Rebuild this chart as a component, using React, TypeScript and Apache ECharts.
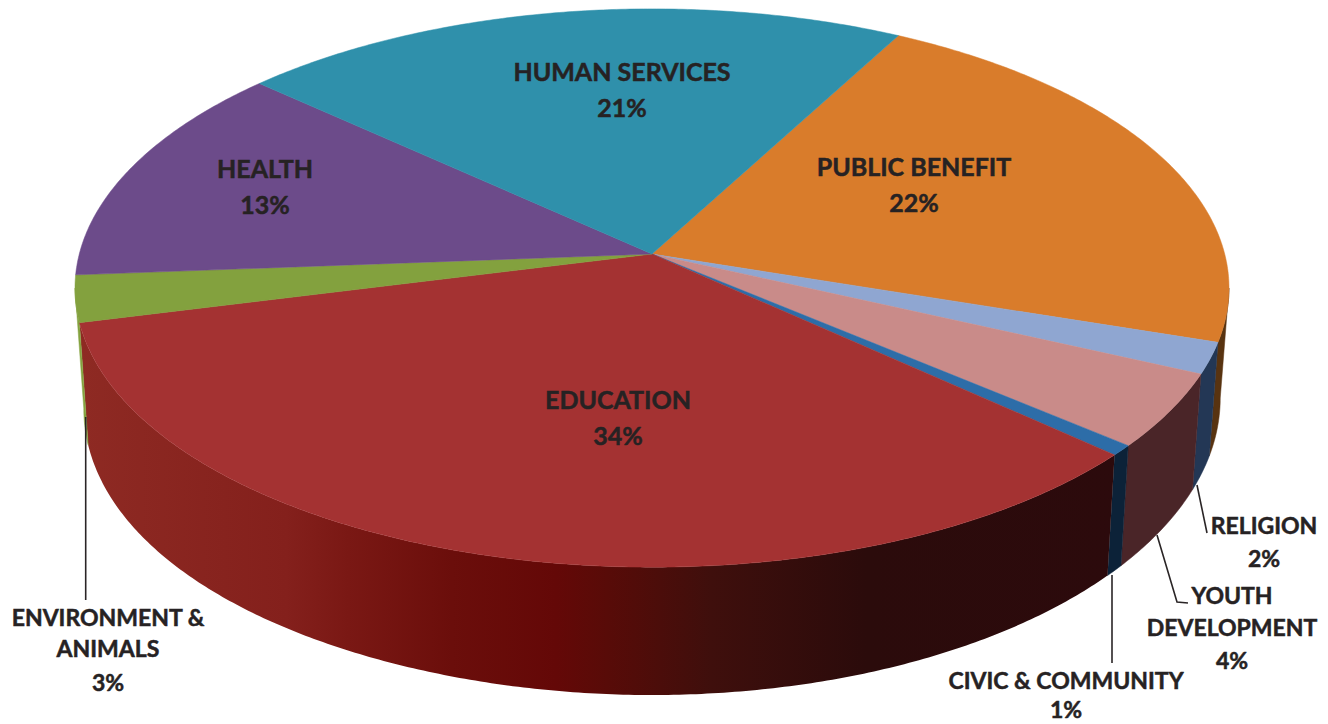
import React, { useEffect, useRef } from "react";
import * as echarts from "echarts";

// ---- data, clockwise from the Human services / Public benefit boundary
const categories = ["PUBLIC BENEFIT", "RELIGION", "YOUTH\nDEVELOPMENT", "CIVIC & COMMUNITY", "EDUCATION", "ENVIRONMENT &\nANIMALS", "HEALTH", "HUMAN SERVICES"];
const shares = [22.1, 1.8, 4.3, 0.6, 34.4, 2.7, 12.9, 21.2];
const percentLabels = ["22%", "2%", "4%", "1%", "34%", "3%", "13%", "21%"];
const topColors = ["#d97c2b", "#8fa6d1", "#c98b89", "#2d6da8", "#a43232", "#83a13e", "#6c4b8a", "#2f90ab"];
const wallColors = ["#583310", "#233755", "#4a2528", "#0c2238", "#a33130", "#84a23f", "#6c4b8a", "#2f90ab"];

// ---- styling and projection of the tilted pie
const START_DEG = 28.45;
const CX = 652;
const PERSPECTIVE = 0.1219;
const TOP = { rx: 572.7, ry: 275, cy: 254, sag: 0 };
const BOTTOM = { rx: 564, ry: 292.6, cy: 361.8, sag: 10 };
const educationWallStops = [
  { offset: 0, color: "#8e2a23" },
  { offset: 0.2, color: "#84201c" },
  { offset: 0.26, color: "#7a1814" },
  { offset: 0.36, color: "#6b0e0b" },
  { offset: 0.46, color: "#640807" },
  { offset: 0.51, color: "#580b08" },
  { offset: 0.61, color: "#3f0f0c" },
  { offset: 0.76, color: "#2b0b0b" },
  { offset: 1, color: "#2c0a0c" },
];
const placements = [
  { x: 914, ys: [166, 202], size: 25 },
  { x: 1264, ys: [525, 558], size: 23 },
  { x: 1232, ys: [595, 627, 660], size: 23 },
  { x: 1066, ys: [680, 709], size: 23 },
  { x: 618, ys: [399, 435], size: 25 },
  { x: 108, ys: [617, 648, 682], size: 23 },
  { x: 265, ys: [168, 204], size: 25 },
  { x: 622, ys: [71, 107], size: 25 },
];
const leaderLines: number[][][] = [
  [[85.7, 417], [85.7, 600]],
  [[1197, 485], [1207, 533]],
  [[1157, 535], [1177, 602], [1188, 603]],
  [[1112, 575], [1112, 663]],
];

type Plane = { rx: number; ry: number; cy: number; sag: number };

function project(deg: number, plane: Plane) {
  const t = (deg * Math.PI) / 180;
  const d = 1 + PERSPECTIVE * Math.cos(t);
  const u = Math.sin(t) / d;
  const v = -Math.cos(t) / d;
  const sag = u < 0 ? plane.sag * Math.pow(-u, 3) : 0;
  return [CX + plane.rx * u, plane.cy + plane.ry * v + sag];
}

function arc(a: number, b: number, plane: Plane) {
  const n = Math.max(2, Math.ceil(Math.abs(b - a) / 0.5));
  const pts: number[][] = [];
  for (let i = 0; i <= n; i++) pts.push(project(a + ((b - a) * i) / n, plane));
  return pts;
}

const total = shares.reduce((s, v) => s + v, 0);
const bounds: number[] = [START_DEG];
shares.forEach((v) => bounds.push(bounds[bounds.length - 1] + (v / total) * 360));

const silhouetteDeg = (Math.acos(-PERSPECTIVE) * 180) / Math.PI;

export default function App() {
  const ref = useRef<HTMLDivElement>(null);
  useEffect(() => {
    document.body.style.margin = "0";
    const chart = echarts.init(ref.current!, null, { renderer: "svg" });
    const rows = categories.map((name, i) => ({ name, value: shares[i] }));
    chart.setOption({
      animation: false,
      backgroundColor: "#ffffff",
      series: [
        {
          type: "custom",
          coordinateSystem: "none",
          silent: true,
          z: 1,
          data: rows,
          renderItem: (params: any) => {
            const i = params.dataIndex;
            const a = Math.max(bounds[i], silhouetteDeg);
            const b = Math.min(bounds[i + 1], 360 - silhouetteDeg);
            if (b <= a) return { type: "group", children: [] };
            const fill =
              categories[i] === "EDUCATION"
                ? { type: "linear", x: 0, y: 0, x2: 1, y2: 0, colorStops: educationWallStops }
                : wallColors[i];
            const edge = categories[i] === "EDUCATION" ? "transparent" : wallColors[i];
            return {
              type: "polygon",
              shape: { points: [...arc(a, b, TOP), ...arc(b, a, BOTTOM)] },
              style: { fill, stroke: edge, lineWidth: 0.5 },
            };
          },
        },
        {
          type: "custom",
          coordinateSystem: "none",
          silent: true,
          z: 2,
          data: rows,
          renderItem: (params: any) => {
            const i = params.dataIndex;
            return {
              type: "polygon",
              shape: { points: [[CX, TOP.cy], ...arc(bounds[i], bounds[i + 1], TOP)] },
              style: { fill: topColors[i], stroke: topColors[i], lineWidth: 0.5 },
            };
          },
        },
        {
          type: "custom",
          coordinateSystem: "none",
          silent: true,
          z: 3,
          data: rows,
          renderItem: (params: any) => {
            const i = params.dataIndex;
            const lines = [...categories[i].split("\n"), percentLabels[i]];
            const p = placements[i];
            return {
              type: "group",
              children: lines.map((text, j) => ({
                type: "text",
                x: p.x,
                y: p.ys[j],
                style: {
                  text,
                  fill: "#262223",
                  stroke: "#262223",
                  lineWidth: 0.5,
                  font: `bold ${p.size}px Lato, "Open Sans", sans-serif`,
                  textAlign: "center",
                  textVerticalAlign: "middle",
                },
              })),
            };
          },
        },
      ],
      graphic: leaderLines.map((points) => ({
        type: "polyline",
        z: 5,
        shape: { points },
        style: { fill: "none", stroke: "#2a2526", lineWidth: 1.6 },
      })),
    });
    return () => chart.dispose();
  }, []);
  return <div ref={ref} style={{ position: "absolute", left: 0, top: 0, width: 1328, height: 724 }} />;
}
